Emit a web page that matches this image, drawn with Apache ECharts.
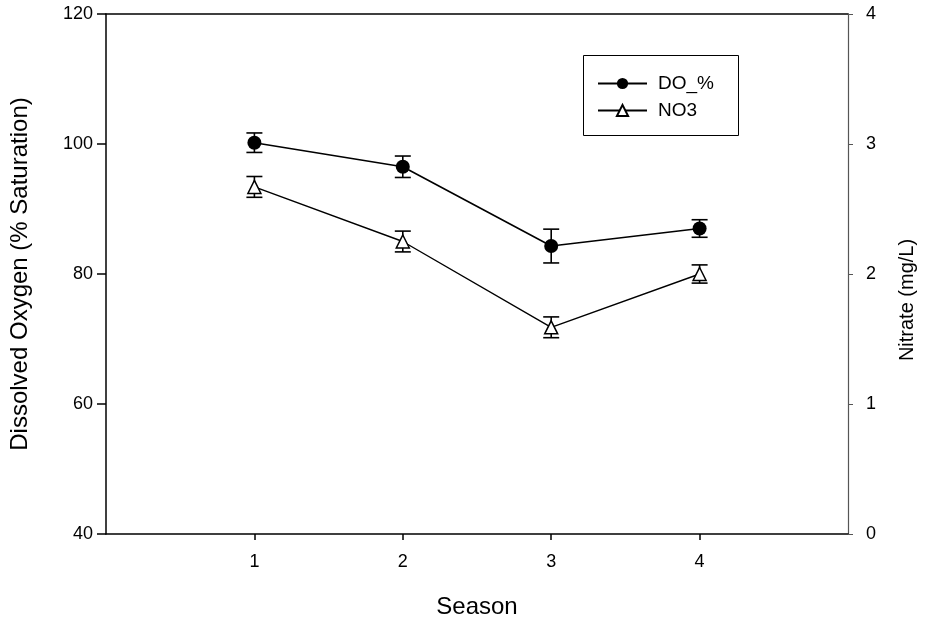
<!DOCTYPE html>
<html>
<head>
<meta charset="utf-8">
<script src="https://cdn.jsdelivr.net/npm/echarts@6/dist/echarts.min.js"></script>
<style>
  html, body { margin: 0; padding: 0; background: #fff; }
  #chart { width: 925px; height: 625px; }
</style>
</head>
<body>
<div id="chart"></div>
<script>
// Seasonal means with standard-error bars
const seasons = [1, 2, 3, 4];
const doPercent = [100.2, 96.5, 84.3, 87.0];
const doError = [1.5, 1.65, 2.6, 1.35];
const nitrate = [2.67, 2.25, 1.59, 2.0];
const nitrateError = [0.08, 0.08, 0.08, 0.07];
const leftTicks = [40, 60, 80, 100, 120];
const rightTicks = [0, 1, 2, 3, 4];

const FONT = '"Liberation Sans", Arial, sans-serif';

const chart = echarts.init(document.getElementById('chart'), null, { renderer: 'canvas' });

// vertical error bar with caps, drawn in data coordinates
function errorSeries(name, means, errs, yIdx) {
  return {
    name: name + ' err',
    type: 'custom',
    xAxisIndex: 0,
    yAxisIndex: yIdx,
    z: 3,
    silent: true,
    data: seasons.map((s, i) => [s, means[i] - errs[i], means[i] + errs[i]]),
    renderItem: function (params, api) {
      const lo = api.coord([api.value(0), api.value(1)]);
      const hi = api.coord([api.value(0), api.value(2)]);
      const half = 8;
      const st = { stroke: '#000', lineWidth: 1.6, fill: null };
      return {
        type: 'group',
        children: [
          { type: 'line', shape: { x1: lo[0], y1: lo[1], x2: hi[0], y2: hi[1] }, style: st },
          { type: 'line', shape: { x1: hi[0] - half, y1: hi[1], x2: hi[0] + half, y2: hi[1] }, style: st },
          { type: 'line', shape: { x1: lo[0] - half, y1: lo[1], x2: lo[0] + half, y2: lo[1] }, style: st }
        ]
      };
    }
  };
}

chart.setOption({
  backgroundColor: '#fff',
  animation: false,
  textStyle: { fontFamily: FONT, color: '#000' },
  grid: { left: 106, right: 72, top: 14, bottom: 91, containLabel: false },
  graphic: [{
    type: 'rect',
    left: 583, top: 55,
    shape: { width: 155, height: 80 },
    style: { fill: '#fff', stroke: '#000', lineWidth: 1 },
    z: 10
  }],
  legend: {
    left: 597, top: 74,
    padding: 0,
    orient: 'vertical',
    itemWidth: 49,
    itemHeight: 14,
    itemGap: 8,
    z: 20,
    data: ['DO_%', 'NO3'],
    textStyle: { fontFamily: FONT, fontSize: 19, color: '#000', padding: [0, 0, 0, 6] }
  },
  xAxis: [{
    type: 'value',
    min: 0, max: 5, interval: 1,
    name: 'Season',
    nameLocation: 'middle',
    nameGap: 61,
    nameTextStyle: { fontSize: 24, color: '#000', fontFamily: FONT },
    axisLine: { show: true, onZero: false, lineStyle: { color: '#000', width: 1.5 } },
    axisTick: { show: true, inside: false, length: 6, customValues: seasons, lineStyle: { color: '#000', width: 1.5 } },
    axisLabel: { customValues: seasons, fontSize: 18, color: '#000', margin: 19, fontFamily: FONT },
    splitLine: { show: false }
  }, {
    type: 'value',
    position: 'top',
    min: 0, max: 5,
    axisLine: { show: true, onZero: false, lineStyle: { color: '#000', width: 1.5 } },
    axisTick: { show: false },
    axisLabel: { show: false },
    splitLine: { show: false }
  }],
  yAxis: [{
    type: 'value',
    position: 'left',
    min: 40, max: 120, interval: 20,
    name: 'Dissolved Oxygen (% Saturation)',
    nameLocation: 'middle',
    nameGap: 74,
    nameTextStyle: { fontSize: 24, color: '#000', fontFamily: FONT },
    axisLine: { show: true, onZero: false, lineStyle: { color: '#000', width: 1.5 } },
    axisTick: { show: true, inside: false, length: 9, customValues: leftTicks, lineStyle: { color: '#000', width: 1.5 } },
    axisLabel: { customValues: leftTicks, fontSize: 18, color: '#000', margin: 13, fontFamily: FONT },
    splitLine: { show: false }
  }, {
    type: 'value',
    position: 'right',
    min: 0, max: 4, interval: 1,
    name: 'Nitrate (mg/L)',
    nameLocation: 'middle',
    nameGap: 49,
    nameTextStyle: { fontSize: 20, color: '#000', fontFamily: FONT, padding: [0, 52, 0, 0] },
    axisLine: { show: true, onZero: false, lineStyle: { color: '#555', width: 1.2 } },
    axisTick: { show: true, inside: false, length: 5, customValues: rightTicks, lineStyle: { color: '#555', width: 1 } },
    axisLabel: { customValues: rightTicks, fontSize: 18, color: '#000', margin: 18, fontFamily: FONT },
    splitLine: { show: false }
  }],
  series: [
    errorSeries('DO_%', doPercent, doError, 0),
    errorSeries('NO3', nitrate, nitrateError, 1),
    {
      name: 'DO_%',
      type: 'line',
      yAxisIndex: 0,
      z: 4,
      data: seasons.map((s, i) => [s, doPercent[i]]),
      symbol: 'circle',
      symbolSize: 14,
      lineStyle: { color: '#000', width: 1.6 },
      itemStyle: { color: '#000', borderColor: '#000', borderWidth: 0 }
    },
    {
      name: 'NO3',
      type: 'line',
      yAxisIndex: 1,
      z: 4,
      data: seasons.map((s, i) => [s, nitrate[i]]),
      symbol: 'triangle',
      symbolSize: 13,
      lineStyle: { color: '#000', width: 1.4 },
      itemStyle: { color: '#fff', borderColor: '#000', borderWidth: 1.5 }
    }
  ]
});
</script>
</body>
</html>
